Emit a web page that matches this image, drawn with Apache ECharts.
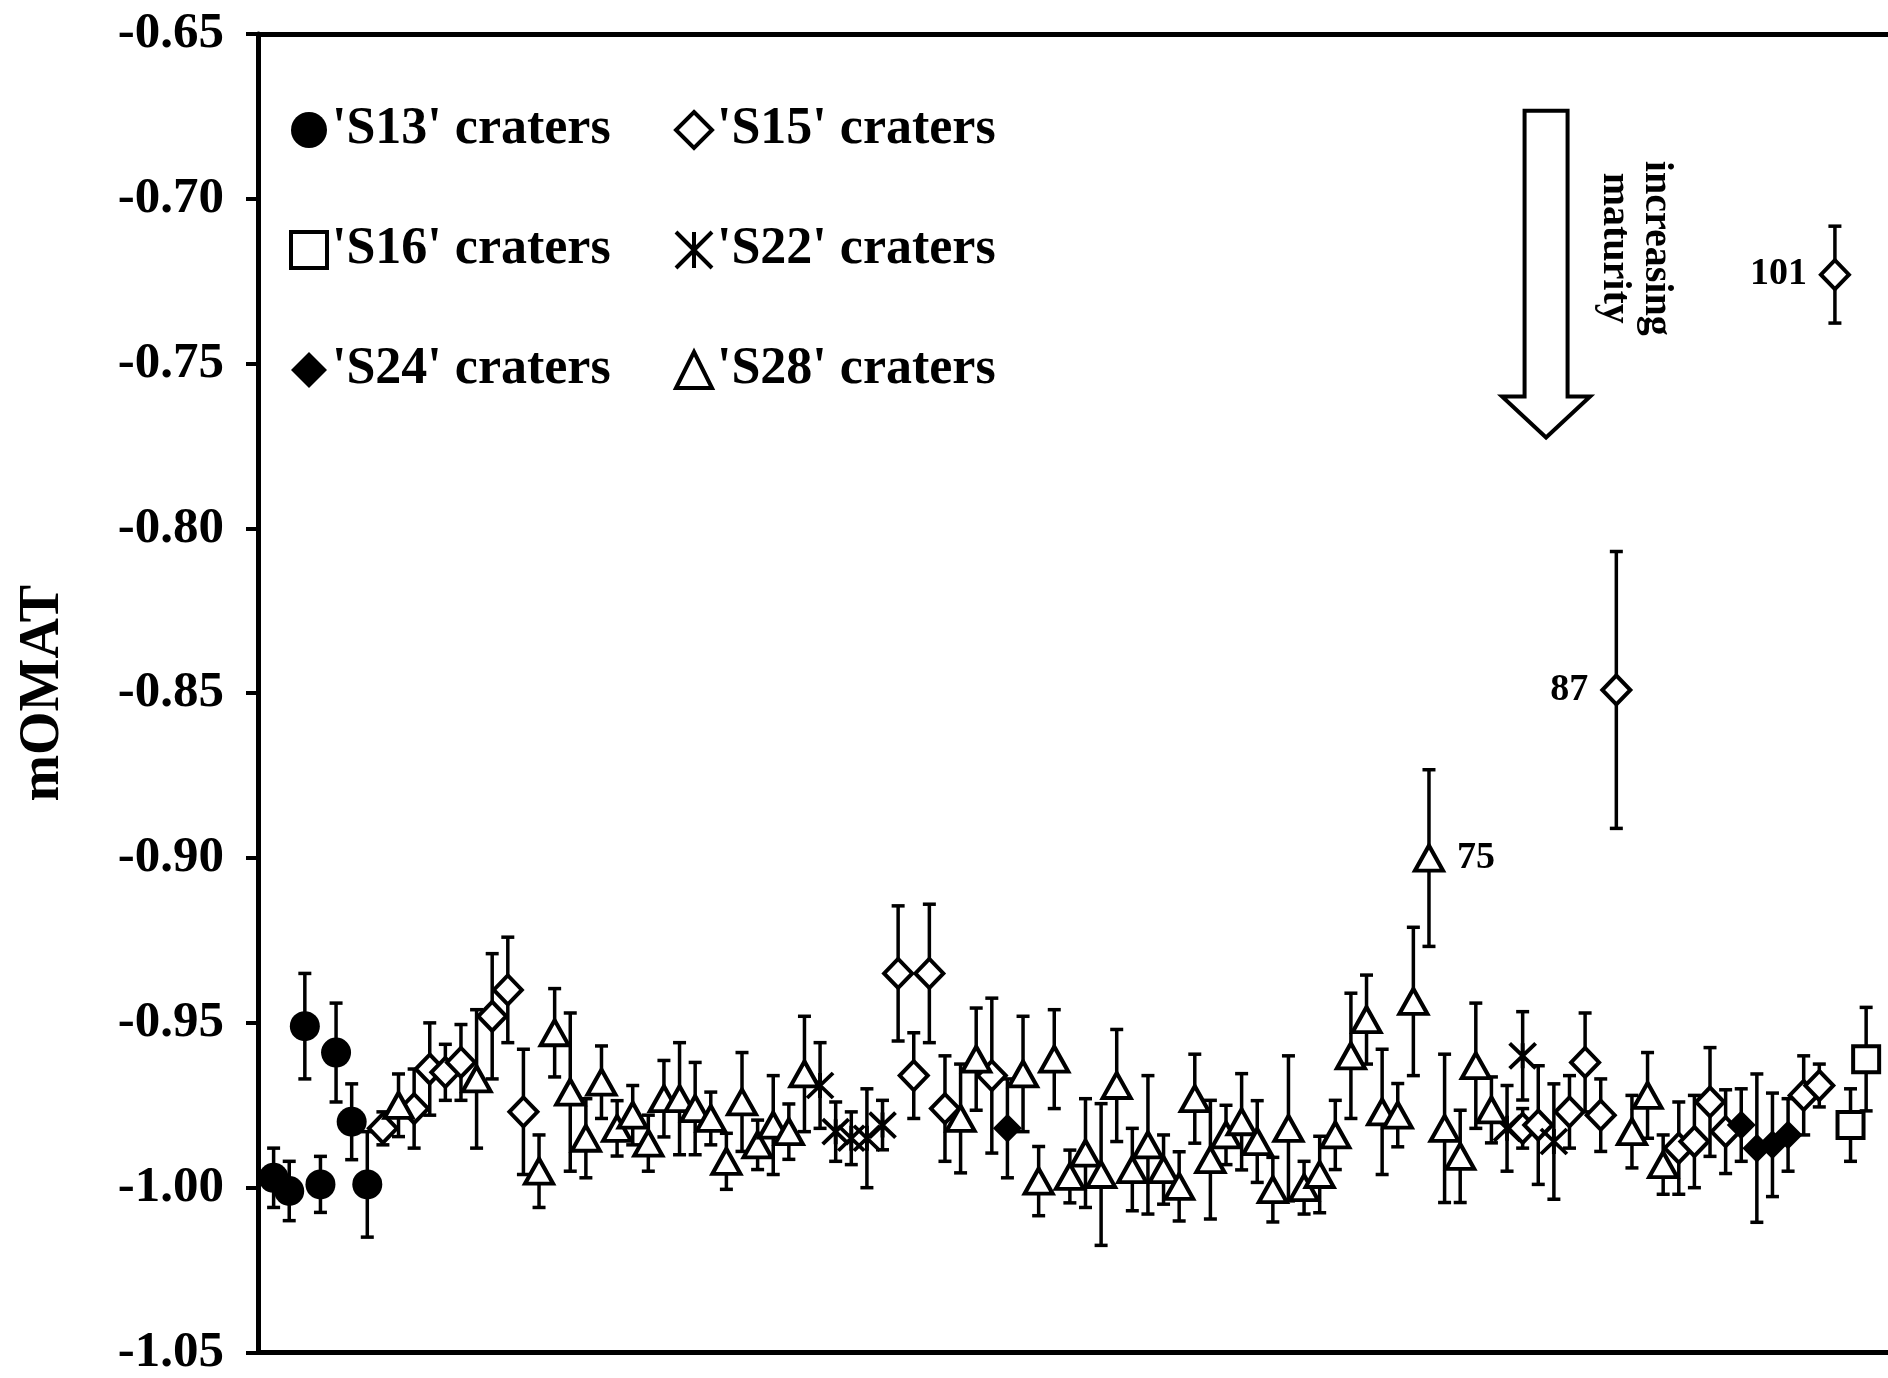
<!DOCTYPE html>
<html>
<head>
<meta charset="utf-8">
<script src="https://cdn.jsdelivr.net/npm/echarts@6/dist/echarts.min.js"></script>
<style>
html,body{margin:0;padding:0;background:#fff;}
#chart{width:1888px;height:1378px;}
</style>
</head>
<body>
<div id="chart"></div>
<script>
// ---------------- data ----------------
const yTicks = [-1.05, -1.00, -0.95, -0.90, -0.85, -0.80, -0.75, -0.70, -0.65];
const xMin = 0, xMax = 104.4;

// 'S13' craters (filled circles)
const s13X   = [1, 2, 3, 4, 5, 6, 7];
const s13Y   = [-0.997, -1.001, -0.951, -0.999, -0.959, -0.980, -0.999];
const s13Err = [0.009, 0.009, 0.016, 0.0085, 0.015, 0.0115, 0.016];

// 'S15' craters (open diamonds)
const s15X   = [8, 10, 11, 12, 13, 15, 16, 17, 41, 42, 43, 44, 47, 81, 82, 84, 85, 86, 87, 91, 92, 93, 94, 99, 100, 101];
const s15Y   = [-0.982, -0.976, -0.964, -0.965, -0.962, -0.948, -0.940, -0.977, -0.935, -0.966, -0.935, -0.976, -0.966,
                -0.982, -0.981, -0.977, -0.962, -0.978, -0.849, -0.988, -0.986, -0.974, -0.983, -0.972, -0.969, -0.723];
const s15Err = [0.005, 0.012, 0.014, 0.0085, 0.0115, 0.019, 0.016, 0.019, 0.0205, 0.013, 0.021, 0.016, 0.0235,
                0.006, 0.018, 0.011, 0.015, 0.011, 0.042, 0.014, 0.014, 0.0165, 0.0127, 0.012, 0.0065, 0.0147];

// 'S16' craters (open squares)
const s16X   = [102, 103];
const s16Y   = [-0.981, -0.961];
const s16Err = [0.011, 0.0157];

// 'S22' craters (asterisks)
const s22X   = [36, 37, 38, 39, 40, 80, 81, 83];
const s22Y   = [-0.969, -0.983, -0.985, -0.985, -0.981, -0.982, -0.960, -0.986];
const s22Err = [0.013, 0.009, 0.008, 0.015, 0.0075, 0.013, 0.0134, 0.0175];

// 'S24' craters (filled diamonds)
const s24X   = [48, 95, 96, 97, 98];
const s24Y   = [-0.982, -0.981, -0.988, -0.987, -0.984];
const s24Err = [0.015, 0.011, 0.0225, 0.0157, 0.011];

// 'S28' craters (open triangles)
const s28X   = [9, 14, 18, 19, 20, 21, 22, 23, 24, 25, 26, 27, 28, 29, 30, 31, 32, 33, 34, 35,
                45, 46, 49, 50, 51, 52, 53, 54, 55, 56, 57, 58, 59, 60, 61, 62, 63, 64, 65, 66,
                67, 68, 69, 70, 71, 72, 73, 74, 75, 76, 77, 78, 79, 88, 89, 90];
const s28Y   = [-0.975, -0.967, -0.995, -0.953, -0.971, -0.985, -0.968, -0.982, -0.978, -0.9865,
                -0.973, -0.973, -0.976, -0.979, -0.992, -0.974, -0.987, -0.981, -0.983, -0.9655,
                -0.979, -0.961, -0.9655, -0.998, -0.961, -0.9966, -0.9895, -0.996, -0.969, -0.9945,
                -0.987, -0.9945, -0.9996, -0.973, -0.9915, -0.984, -0.980, -0.986, -1.0006, -0.982,
                -1.000, -0.996, -0.984, -0.960, -0.949, -0.977, -0.978, -0.9435, -0.900, -0.982,
                -0.9905, -0.963, -0.9764, -0.983, -0.972, -0.993];
const s28Err = [0.0095, 0.021, 0.011, 0.0134, 0.024, 0.012, 0.011, 0.0084, 0.009, 0.0085,
                0.0116, 0.017, 0.014, 0.008, 0.0085, 0.015, 0.0075, 0.015, 0.0084, 0.0175,
                0.0165, 0.0155, 0.0175, 0.0105, 0.015, 0.008, 0.0165, 0.0215, 0.017, 0.0125,
                0.021, 0.0105, 0.0105, 0.0135, 0.018, 0.009, 0.0146, 0.0124, 0.0098, 0.022,
                0.008, 0.0116, 0.0105, 0.019, 0.0135, 0.019, 0.0096, 0.0225, 0.0268, 0.0225,
                0.014, 0.019, 0.01, 0.011, 0.013, 0.009];

// craters that carry their number as a label
const labelledIds = [75, 87, 101];

// ---------------- styling ----------------
const FONT = 'Liberation Serif';
const starPath = 'path://M0 0L24 24M24 0L0 24M12 0L12 24';

const groups = [
  {name: "'S13' craters", x: s13X, y: s13Y, e: s13Err, symbol: 'circle',   size: 30,       fill: '#000', bw: 0,   labelSide: 'left'},
  {name: "'S15' craters", x: s15X, y: s15Y, e: s15Err, symbol: 'diamond',  size: [28, 29], fill: '#fff', bw: 4,   labelSide: 'left'},
  {name: "'S16' craters", x: s16X, y: s16Y, e: s16Err, symbol: 'rect',     size: 26,       fill: '#fff', bw: 4,   labelSide: 'left'},
  {name: "'S22' craters", x: s22X, y: s22Y, e: s22Err, symbol: starPath,   size: [26, 25], fill: 'rgba(0,0,0,0)', bw: 3.8, labelSide: 'left'},
  {name: "'S24' craters", x: s24X, y: s24Y, e: s24Err, symbol: 'diamond',  size: [29, 29], fill: '#000', bw: 0,   labelSide: 'left'},
  {name: "'S28' craters", x: s28X, y: s28Y, e: s28Err, symbol: 'triangle', size: [28, 25], fill: '#fff', bw: 4,   labelSide: 'right'}
];

function renderErr(params, api) {
  const x = api.value(0), lo = api.value(1), hi = api.value(2);
  const a = api.coord([x, lo]), b = api.coord([x, hi]);
  const cap = 6.5, lw = 3.5;
  const st = {stroke: '#000', lineWidth: lw};
  return {
    type: 'group',
    children: [
      {type: 'line', shape: {x1: a[0], y1: a[1], x2: b[0], y2: b[1]}, style: st},
      {type: 'line', shape: {x1: a[0] - cap, y1: a[1], x2: a[0] + cap, y2: a[1]}, style: st},
      {type: 'line', shape: {x1: b[0] - cap, y1: b[1], x2: b[0] + cap, y2: b[1]}, style: st}
    ]
  };
}

const errSeries = groups.map(g => ({
  type: 'custom',
  name: g.name + ' err',
  renderItem: renderErr,
  encode: {x: 0, y: [1, 2]},
  data: g.x.map((xv, i) => [xv, g.y[i] - g.e[i], g.y[i] + g.e[i]]),
  z: 2,
  silent: true,
  animation: false
}));

const labelStyle = {fontFamily: FONT, fontWeight: 'bold', fontSize: 38, color: '#000'};

const pointSeries = groups.map(g => ({
  type: 'scatter',
  name: g.name,
  symbol: g.symbol,
  symbolSize: g.size,
  itemStyle: {color: g.fill, borderColor: '#000', borderWidth: g.bw, opacity: 1},
  z: 3,
  data: g.x.map((xv, i) => {
    const item = {value: [xv, g.y[i]]};
    if (labelledIds.includes(xv)) {
      item.label = Object.assign({show: true, position: g.labelSide, distance: 12,
                                  formatter: String(xv)}, labelStyle);
    }
    return item;
  }),
  animation: false
}));

function legendItems(list) {
  return list.map(g => ({
    name: g.name,
    itemStyle: {borderWidth: g.bw > 0 ? 4 : 0, borderColor: '#000', color: g.fill}
  }));
}

const legendText = {fontFamily: FONT, fontWeight: 'bold', fontSize: 52, color: '#000', lineHeight: 54};
const legendCommon = {orient: 'vertical', top: 103, itemGap: 66, itemWidth: 36, itemHeight: 36,
                      selectedMode: false, textStyle: legendText, padding: 0};

const chart = echarts.init(document.getElementById('chart'), null, {renderer: 'canvas'});

chart.setOption({
  backgroundColor: '#fff',
  animation: false,
  textStyle: {fontFamily: FONT},
  legend: [
    Object.assign({left: 289, data: legendItems([groups[0], groups[2], groups[4]])}, legendCommon),
    Object.assign({left: 674, data: legendItems([groups[1], groups[3], groups[5]])}, legendCommon)
  ],
  grid: {left: 258, right: 0, top: 34, bottom: 25, containLabel: false},
  xAxis: [
    {type: 'value', min: xMin, max: xMax, position: 'bottom',
     axisLine: {show: true, onZero: false, lineStyle: {color: '#000', width: 5}},
     axisTick: {show: false}, axisLabel: {show: false}, splitLine: {show: false}},
    {type: 'value', min: xMin, max: xMax, position: 'top',
     axisLine: {show: true, onZero: false, lineStyle: {color: '#000', width: 5}},
     axisTick: {show: false}, axisLabel: {show: false}, splitLine: {show: false}}
  ],
  yAxis: {
    type: 'value',
    min: yTicks[0], max: yTicks[yTicks.length - 1], interval: 0.05,
    name: 'mOMAT', nameLocation: 'middle', nameGap: 186, nameRotate: 90,
    nameTextStyle: {fontFamily: FONT, fontWeight: 'bold', fontSize: 56, color: '#000'},
    axisLine: {show: true, onZero: false, lineStyle: {color: '#000', width: 5}},
    axisTick: {show: true, inside: false, length: 12, lineStyle: {color: '#000', width: 4}},
    axisLabel: {show: true, margin: 34, fontFamily: FONT, fontWeight: 'bold', fontSize: 51, color: '#000',
                formatter: v => v.toFixed(2)},
    splitLine: {show: false}
  },
  series: errSeries.concat(pointSeries)
});

// ---------------- annotation: "increasing maturity" arrow ----------------
const arrowTop = chart.convertToPixel({gridIndex: 0}, [82.5, -0.6733]);
const headTop  = chart.convertToPixel({gridIndex: 0}, [82.5, -0.7600]);
const tip      = chart.convertToPixel({gridIndex: 0}, [82.5, -0.7724]);
const cx = arrowTop[0], shaftHalf = 21.5, headHalf = 44;
const textPos  = chart.convertToPixel({gridIndex: 0}, [88.2, -0.7150]);

chart.setOption({
  graphic: [
    {type: 'polygon', z: 10,
     shape: {points: [
       [cx - shaftHalf, arrowTop[1]], [cx + shaftHalf, arrowTop[1]], [cx + shaftHalf, headTop[1]],
       [cx + headHalf, headTop[1]], [cx, tip[1]], [cx - headHalf, headTop[1]], [cx - shaftHalf, headTop[1]]
     ]},
     style: {fill: '#fff', stroke: '#000', lineWidth: 4, lineJoin: 'miter'}},
    {type: 'text', z: 10, x: textPos[0], y: textPos[1], rotation: -Math.PI / 2,
     style: {text: 'increasing\nmaturity', fontFamily: FONT, fontWeight: 'bold', fontSize: 40,
             lineHeight: 42, fill: '#000', align: 'center', verticalAlign: 'middle'}}
  ]
});
</script>
</body>
</html>
